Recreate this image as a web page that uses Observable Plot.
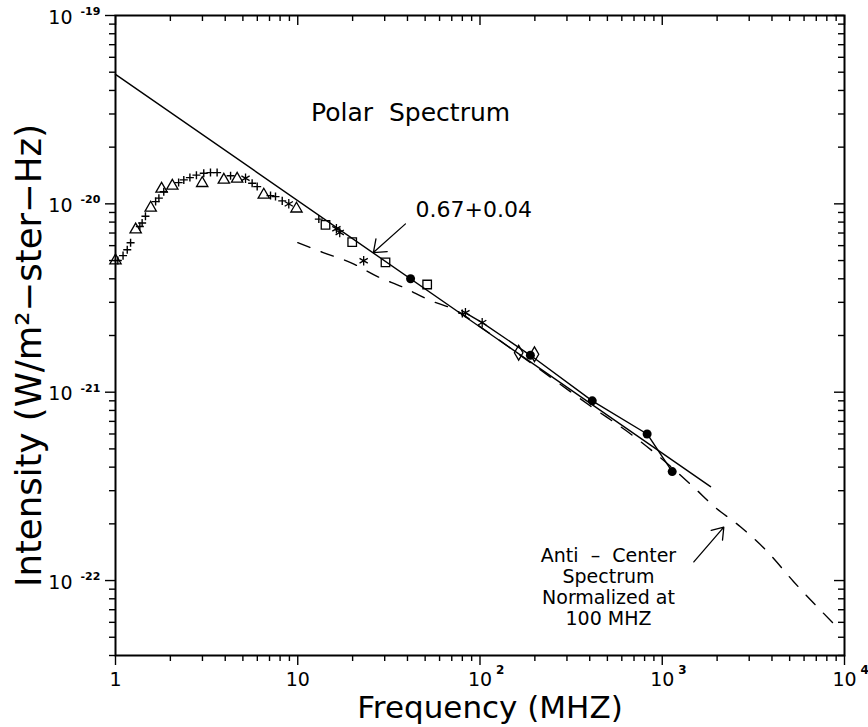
<!DOCTYPE html>
<html><head><meta charset="utf-8">
<script src="https://cdn.jsdelivr.net/npm/d3@7"></script>
<script src="https://cdn.jsdelivr.net/npm/@observablehq/plot@0.6"></script>
<style>body{margin:0;background:#fff}#chart svg{display:block}</style>
</head><body><div id="chart"></div>
<script>
// ---- tick labels ----
const xMajor = [1, 10, 100, 1000, 10000];
const xTickBase = ["1", "10", "10", "10", "10"];
const xTickExp = ["", "", "2", "3", "4"];
const yMajor = [1e-22, 1e-21, 1e-20, 1e-19];
const yTickBase = ["10", "10", "10", "10"];
const yTickExp = ["-22", "-21", "-20", "-19"];
const minorMult = [2, 3, 4, 5, 6, 7, 8, 9];
const xDecades = [1, 10, 100, 1000];
const yDecades = [1e-23, 1e-22, 1e-21, 1e-20];

// ---- data (frequency in MHz, intensity W/m^2-ster-Hz) ----
const triFreq = [1.0, 1.29, 1.56, 1.79, 2.05, 2.99, 3.93, 4.65, 6.51, 9.84];
const triInt  = [5.0e-21, 7.29e-21, 9.53e-21, 1.20e-20, 1.245e-20, 1.287e-20, 1.34e-20, 1.356e-20, 1.117e-20, 9.42e-21];

const plusFreq = [1.03, 1.10, 1.16, 1.21, 1.36, 1.40, 1.46, 1.66, 1.73, 1.84, 2.22, 2.37, 2.56, 2.78, 3.05, 3.32, 3.61, 4.28, 5.62, 5.99, 7.09, 7.55, 8.22, 13.05, 80.0];
const plusInt  = [5.0e-21, 5.31e-21, 5.71e-21, 6.22e-21, 7.58e-21, 7.91e-21, 8.6e-21, 1.028e-20, 1.072e-20, 1.16e-20, 1.297e-20, 1.34e-20, 1.378e-20, 1.42e-20, 1.453e-20, 1.465e-20, 1.465e-20, 1.41e-20, 1.287e-20, 1.235e-20, 1.106e-20, 1.093e-20, 1.037e-20, 8.30e-21, 2.62e-21];

const astFreq = [5.17, 8.93, 16.3, 17.0, 23.0, 83.2, 102.8];
const astInt  = [1.367e-20, 1.0e-20, 7.38e-21, 7.05e-21, 4.99e-21, 2.64e-21, 2.34e-21];

const sqFreq = [14.2, 19.9, 30.3, 51.3];
const sqInt  = [7.74e-21, 6.27e-21, 4.89e-21, 3.73e-21];

const dotFreq = [41.6, 189, 413, 826, 1134];
const dotInt  = [4.00e-21, 1.57e-21, 9.0e-22, 6.0e-22, 3.79e-22];

const diaFreq = [163, 199];
const diaInt  = [1.62e-21, 1.59e-21];

// line joining the high-frequency points
const linkFreq = [83.2, 102.8, 189, 413, 826, 1134];
const linkInt  = [2.64e-21, 2.34e-21, 1.57e-21, 9.0e-22, 6.0e-22, 3.79e-22];

// power-law fit (index 0.67)
const fitFreq = [1, 1840];
const fitInt  = [4.87e-20, 3.15e-22];

// anti-center spectrum, normalized at 100 MHz
const acFreq = [10, 13.8, 19.5, 27.4, 38.0, 52.1, 75.3, 100, 200, 400, 695, 895, 1521, 1910, 2685, 3784, 5248, 9506];
const acInt  = [6.22e-21, 5.51e-21, 4.88e-21, 4.11e-21, 3.60e-21, 3.10e-21, 2.69e-21, 2.23e-21, 1.38e-21, 8.5e-22, 5.85e-22, 4.82e-22, 3.07e-22, 2.49e-22, 1.93e-22, 1.42e-22, 9.89e-23, 5.43e-23];

// annotations
const titleText = ["Polar  Spectrum"];
const titleAt = [41.6, 3.03e-20];
const slopeText = ["0.67+0.04"];
const slopeAt = [44.3, 9.3e-21];
const slopeArrow = [39.0, 7.83e-21, 26.0, 5.51e-21];
const acText = ["Anti  –  Center\nSpectrum\nNormalized at\n100 MHZ"];
const acAt = [507, 9.29e-23];
const acArrow = [1490, 1.256e-22, 2177, 1.92e-22];
const xLabel = ["Frequency (MHZ)"];
const yLabel = ["Intensity (W/m²−ster−Hz)"];

// ---- build tables ----
const pts = (fs, vs) => fs.map((f, i) => ({f, v: vs[i]}));
const xMinor = xDecades.flatMap(d => minorMult.map(k => k * d));
const yMinor = yDecades.flatMap(d => minorMult.map(k => k * d)).filter(v => v >= 4e-23 && v < 1e-19);
const xTicks = xMajor.map((v, i) => ({v, base: xTickBase[i], exp: xTickExp[i]}));
const yTicks = yMajor.map((v, i) => ({v, base: yTickBase[i], exp: yTickExp[i]}));

const W = 868, H = 727, ML = 115, MR = 24, MT = 15, MB = 72;
const FH = H - MT - MB, FW = W - ML - MR;
const font = "DejaVu Sans";
const sw = 1.4;

const chart = Plot.plot({
  width: W, height: H,
  marginLeft: ML, marginRight: MR, marginTop: MT, marginBottom: MB,
  x: {type: "log", domain: [1, 1e4], axis: null},
  y: {type: "log", domain: [4e-23, 1e-19], axis: null},
  style: {fontFamily: font, background: "white", color: "black"},
  marks: [
    // ticks: bottom/left outward, top/right inward
    Plot.ruleX(xMajor, {insetTop: FH, insetBottom: -10, strokeWidth: sw}),
    Plot.ruleX(xMinor, {insetTop: FH, insetBottom: -6, strokeWidth: sw}),
    Plot.ruleX(xMajor, {insetBottom: FH - 10, strokeWidth: sw}),
    Plot.ruleX(xMinor, {insetBottom: FH - 6, strokeWidth: sw}),
    Plot.ruleY(yMajor, {insetLeft: -10, insetRight: FW, strokeWidth: sw}),
    Plot.ruleY(yMinor, {insetLeft: -6, insetRight: FW, strokeWidth: sw}),
    Plot.ruleY(yMajor, {insetLeft: FW - 10, strokeWidth: sw}),
    Plot.ruleY(yMinor, {insetLeft: FW - 6, strokeWidth: sw}),
    Plot.frame({stroke: "black", strokeWidth: 2}),

    // tick labels
    Plot.text(xTicks, {x: "v", text: "base", frameAnchor: "bottom", dy: 24, fontSize: 19, textAnchor: "middle", lineAnchor: "middle"}),
    Plot.text(xTicks, {x: "v", text: "exp", frameAnchor: "bottom", dy: 15, dx: 16, fontSize: 12, textAnchor: "start", lineAnchor: "middle", fontWeight: "bold"}),
    Plot.text(yTicks, {y: "v", text: "base", frameAnchor: "left", dx: -43, dy: 2, fontSize: 19, textAnchor: "end", lineAnchor: "middle"}),
    Plot.text(yTicks, {y: "v", text: "exp", frameAnchor: "left", dx: -35, dy: -4, fontSize: 11, textAnchor: "start", lineAnchor: "middle", fontWeight: "bold"}),

    // axis labels
    Plot.text(xLabel, {frameAnchor: "bottom", dy: 53, dx: 10, fontSize: 31, textAnchor: "middle", lineAnchor: "middle"}),
    Plot.text(yLabel, {frameAnchor: "left", dx: -86, dy: 20, rotate: -90, fontSize: 35.5, textAnchor: "middle", lineAnchor: "middle"}),

    // lines
    Plot.line(pts(acFreq, acInt), {x: "f", y: "v", curve: "monotone-x", stroke: "black", strokeWidth: 1.4, strokeDasharray: "13,12"}),
    Plot.line(pts(fitFreq, fitInt), {x: "f", y: "v", stroke: "black", strokeWidth: 1.4}),
    Plot.line(pts(linkFreq, linkInt), {x: "f", y: "v", stroke: "black", strokeWidth: 1.4}),

    // symbols
    Plot.dot(pts(triFreq, triInt), {x: "f", y: "v", symbol: "triangle", r: 4.2, fill: "none", stroke: "black", strokeWidth: 1.3}),
    Plot.dot(pts(plusFreq, plusInt), {x: "f", y: "v", symbol: "plus", r: 2.7, fill: "none", stroke: "black", strokeWidth: 1.4}),
    Plot.dot(pts(astFreq, astInt), {x: "f", y: "v", symbol: "asterisk", r: 4.5, fill: "none", stroke: "black", strokeWidth: 1.3}),
    Plot.dot(pts(sqFreq, sqInt), {x: "f", y: "v", symbol: "square", r: 4.8, fill: "none", stroke: "black", strokeWidth: 1.3}),
    Plot.dot(pts(diaFreq, diaInt), {x: "f", y: "v", symbol: "diamond", r: 4.5, fill: "none", stroke: "black", strokeWidth: 1.3}),
    Plot.dot(pts(dotFreq, dotInt), {x: "f", y: "v", symbol: "circle", r: 4.5, fill: "black", stroke: "none"}),

    // annotations
    Plot.text(titleText, {x: () => titleAt[0], y: () => titleAt[1], fontSize: 25}),
    Plot.text(slopeText, {x: () => slopeAt[0], y: () => slopeAt[1], fontSize: 22, textAnchor: "start"}),
    Plot.arrow([slopeArrow], {x1: d => d[0], y1: d => d[1], x2: d => d[2], y2: d => d[3], headLength: 16, headAngle: 75, stroke: "black", strokeWidth: 1.3}),
    Plot.text(acText, {x: () => acAt[0], y: () => acAt[1], fontSize: 19, lineHeight: 1.1}),
    Plot.arrow([acArrow], {x1: d => d[0], y1: d => d[1], x2: d => d[2], y2: d => d[3], headLength: 15, headAngle: 70, stroke: "black", strokeWidth: 1.3})
  ]
});
document.getElementById("chart").appendChild(chart);
</script></body></html>
